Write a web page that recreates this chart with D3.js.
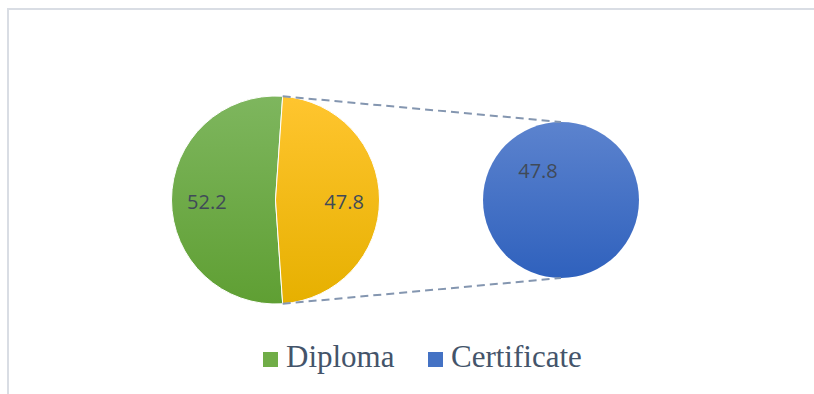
<!DOCTYPE html>
<html>
<head>
<meta charset="utf-8">
<script src="https://cdn.jsdelivr.net/npm/d3@7"></script>
<style>
  html, body { margin: 0; padding: 0; background: #ffffff; }
  svg { display: block; }
</style>
</head>
<body>
<svg id="chart" width="814" height="394"></svg>
<script>
// Main pie: Diploma plus the grouped "other" slice that is broken out into the secondary pie
const mainCategories = ["Diploma", "Other"];
const mainValues = [52.2, 47.8];
// Secondary pie: contents of the grouped slice
const subCategories = ["Certificate"];
const subValues = [47.8];
// Legend entries
const legendLabels = ["Diploma", "Certificate"];

const svg = d3.select("#chart");
const W = 814, H = 394;

// Chart frame
svg.append("rect")
  .attr("x", 8).attr("y", 9)
  .attr("width", W).attr("height", H)
  .attr("fill", "#ffffff")
  .attr("stroke", "#d9dde4")
  .attr("stroke-width", 2);

const defs = svg.append("defs");
// Vertical gradient in the local coordinates of each pie group
function vGrad(id, top, bottom, r) {
  const g = defs.append("linearGradient")
    .attr("id", id)
    .attr("gradientUnits", "userSpaceOnUse")
    .attr("x1", 0).attr("x2", 0).attr("y1", -r).attr("y2", r);
  g.append("stop").attr("offset", "0%").attr("stop-color", top);
  g.append("stop").attr("offset", "100%").attr("stop-color", bottom);
}

const main = { cx: 275.5, cy: 200, r: 104 };
const sub = { cx: 561, cy: 200, r: 78 };

vGrad("gGreen", "#7eb65e", "#5f9f33", main.r);
vGrad("gYellow", "#ffc52f", "#e6b000", main.r);
vGrad("gBlue", "#5c83ce", "#2f61bd", sub.r);

const mainFills = ["url(#gGreen)", "url(#gYellow)"];
const subFills = ["url(#gBlue)"];

// Rotate the main pie so the grouped slice is centred on the right (pointing to the secondary pie)
const total = d3.sum(mainValues);
const otherAngle = 2 * Math.PI * mainValues[1] / total;
const startAngle = Math.PI / 2 + otherAngle / 2 - 2 * Math.PI;

const mainPie = d3.pie().sort(null).value(d => d)
  .startAngle(startAngle).endAngle(startAngle + 2 * Math.PI);
const mainArcs = mainPie(mainValues);
const mainArc = d3.arc().innerRadius(0).outerRadius(main.r);

const gMain = svg.append("g").attr("transform", `translate(${main.cx},${main.cy})`);
gMain.selectAll("path.slice").data(mainArcs).enter().append("path")
  .attr("class", "slice")
  .attr("d", mainArc)
  .attr("fill", (d, i) => mainFills[i])
  .attr("stroke", "#ffffff")
  .attr("stroke-width", 1);

// Secondary pie
const subPie = d3.pie().sort(null).value(d => d);
const subArcs = subPie(subValues);
const subArc = d3.arc().innerRadius(0).outerRadius(sub.r);
const gSub = svg.append("g").attr("transform", `translate(${sub.cx},${sub.cy})`);
gSub.selectAll("path.slice").data(subArcs).enter().append("path")
  .attr("class", "slice")
  .attr("d", subArc)
  .attr("fill", (d, i) => subFills[i]);

// Connector lines from the grouped slice edges to the secondary pie
const oth = mainArcs[1];
const edgePts = [oth.startAngle, oth.endAngle].map(a => [
  main.cx + main.r * Math.sin(a), main.cy - main.r * Math.cos(a)
]);
const subPts = [[sub.cx, sub.cy - sub.r], [sub.cx, sub.cy + sub.r]];
svg.selectAll("line.connector").data([0, 1]).enter().append("line")
  .attr("class", "connector")
  .attr("x1", i => edgePts[i][0]).attr("y1", i => edgePts[i][1])
  .attr("x2", i => subPts[i][0]).attr("y2", i => subPts[i][1])
  .attr("stroke", "#8496b0")
  .attr("stroke-width", 2)
  .attr("stroke-dasharray", "8,5");

// Data labels
const labelFont = "'Open Sans', 'Noto Sans', sans-serif";
const labelColor = "#404a58";
const mainLabelArc = d3.arc().innerRadius(main.r * 0.66).outerRadius(main.r * 0.66);
gMain.selectAll("text.lbl").data(mainArcs).enter().append("text")
  .attr("class", "lbl")
  .attr("transform", d => {
    const c = mainLabelArc.centroid(d);
    return `translate(${c[0]},${c[1] + 1})`;
  })
  .attr("text-anchor", "middle")
  .attr("dominant-baseline", "central")
  .attr("font-family", labelFont)
  .attr("font-size", 20)
  .attr("fill", labelColor)
  .text(d => d.value);

gSub.selectAll("text.lbl").data(subArcs).enter().append("text")
  .attr("class", "lbl")
  .attr("x", -23).attr("y", -30)
  .attr("text-anchor", "middle")
  .attr("dominant-baseline", "central")
  .attr("font-family", labelFont)
  .attr("font-size", 20)
  .attr("fill", labelColor)
  .text(d => d.value);

// Legend
const legendColors = ["#70ad47", "#4472c4"];
const legendX = [263, 428];
const lg = svg.append("g");
const items = lg.selectAll("g.item").data(legendLabels).enter().append("g")
  .attr("class", "item")
  .attr("transform", (d, i) => `translate(${legendX[i]},352)`);
items.append("rect")
  .attr("width", 15).attr("height", 15)
  .attr("fill", (d, i) => legendColors[i]);
items.append("text")
  .attr("x", 23).attr("y", 15)
  .attr("font-family", "'Liberation Serif', 'Times New Roman', serif")
  .attr("font-size", 31)
  .attr("fill", "#44546a")
  .text(d => d);
</script>
</body>
</html>
